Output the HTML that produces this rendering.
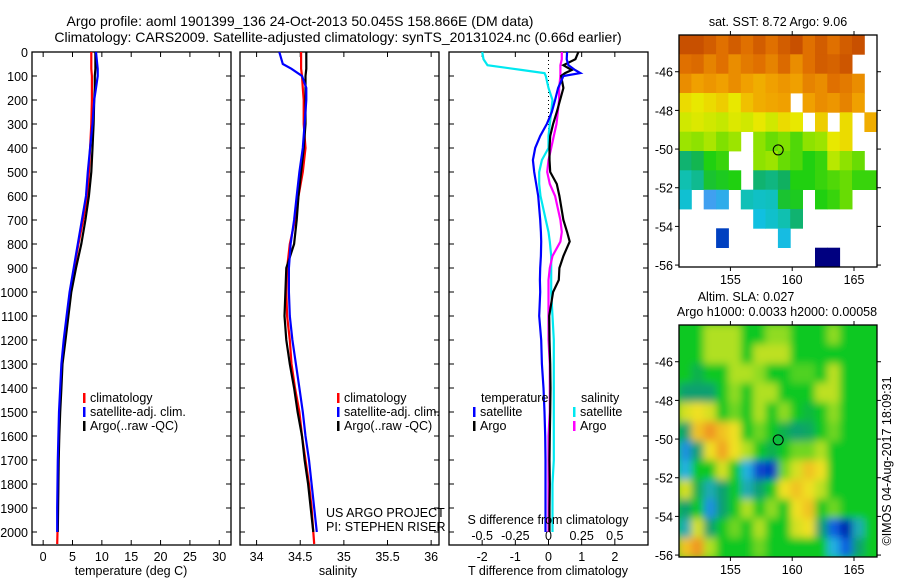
<!DOCTYPE html>
<html><head><meta charset="utf-8"><style>
body{margin:0;background:#fff;}
svg{display:block;font-family:"Liberation Sans",sans-serif;}
text{font-size:12.5px;fill:#000;}
</style></head><body>
<svg id="chart" width="900" height="580" viewBox="0 0 900 580" xmlns="http://www.w3.org/2000/svg">
<defs>
<clipPath id="clipSla"><rect x="679" y="325" width="198" height="232"/></clipPath>
<filter id="blur" x="-5%" y="-5%" width="110%" height="110%"><feGaussianBlur stdDeviation="4"/></filter>
</defs>
<text x="300" y="26" text-anchor="middle" style="font-size:14px">Argo profile: aoml 1901399_136 24-Oct-2013 50.045S 158.866E (DM data)</text>
<text x="338" y="42" text-anchor="middle" style="font-size:14px">Climatology: CARS2009. Satellite-adjusted climatology: synTS_20131024.nc (0.66d earlier)</text>
<text x="778" y="26" text-anchor="middle">sat. SST: 8.72 Argo: 9.06</text>
<text x="746" y="301" text-anchor="middle">Altim. SLA: 0.027</text>
<text x="777" y="316" text-anchor="middle">Argo h1000: 0.0033 h2000: 0.00058</text>
<text transform="translate(891,461) rotate(-90)" text-anchor="middle">©IMOS 04-Aug-2017 18:09:31</text>
<g id="g"></g>
</svg>
<script>
// ---- profile data ----
const depths = [0,50,70,100,150,200,300,400,500,600,700,800,900,1000,1100,1200,1300,1400,1500,1600,1700,1800,1900,2000,2050];
const tempClim = [8.2,8.2,8.2,8.3,8.3,8.3,8.2,8.0,7.8,7.5,6.8,6.0,5.3,4.7,4.1,3.6,3.2,3.0,2.8,2.7,2.6,2.55,2.5,2.45,2.4];
const tempSat = [9.0,9.2,9.3,9.3,9.0,8.7,8.4,8.0,7.6,7.3,6.6,5.9,5.2,4.5,4.0,3.5,3.1,2.9,2.7,2.6,2.5,2.45,2.4,2.4,null];
const tempArgo = [8.9,8.9,8.9,8.8,8.8,8.7,8.6,8.4,8.2,7.8,7.2,6.5,5.6,4.8,4.3,3.8,3.3,3.1,2.9,2.75,2.65,2.6,2.55,2.5,null];
const salClim = [34.51,34.51,34.51,34.52,34.53,34.54,34.54,34.56,34.53,34.48,34.44,34.38,34.35,34.34,34.35,34.38,34.40,34.44,34.49,34.52,34.56,34.60,34.63,34.65,34.66];
const salSat = [34.26,34.30,34.40,34.52,34.57,34.57,34.55,34.53,34.49,34.46,34.43,34.39,34.37,34.37,34.38,34.41,34.45,34.49,34.53,34.56,34.60,34.63,34.66,34.69,null];
const salArgo = [34.57,34.57,34.57,34.56,34.56,34.56,34.56,34.54,34.51,34.48,34.46,34.43,34.34,34.33,34.32,34.34,34.38,34.43,34.47,34.52,34.55,34.59,34.62,34.65,null];
const diffDepths = [0,30,55,75,88,100,150,200,250,300,350,400,450,500,550,600,700,750,790,850,900,950,1000,1100,1200,1300,1400,1500,1600,1700,1800,1900,2000];
const tDiffSat = [0.56,0.55,0.6,0.8,0.96,0.45,0.29,0.2,0.1,-0.05,-0.25,-0.4,-0.47,-0.43,-0.37,-0.31,-0.25,-0.23,-0.22,-0.23,-0.25,-0.26,-0.25,-0.28,-0.22,-0.2,-0.15,-0.12,-0.1,-0.09,-0.09,-0.09,-0.09];
const tDiffArgo = [0.9,0.81,0.45,0.7,0.5,0.38,0.45,0.35,0.25,0.14,0.05,0.03,0.03,0.05,0.25,0.33,0.45,0.56,0.64,0.45,0.33,0.31,0.14,0.02,0.03,0.05,0.06,0.05,0.04,0.03,0.04,0.03,0.03];
const sDiffSat = [-0.5,-0.49,-0.46,-0.2,-0.03,-0.02,0,0.03,0.02,0.01,0,0,-0.05,-0.07,-0.07,-0.06,-0.02,0,0.01,0.02,0.02,0.02,0.02,0.03,0.04,0.04,0.04,0.04,0.04,0.04,0.03,0.03,0.03];
const sDiffArgo = [0.1,0.1,0.09,0.09,0.09,0.09,0.08,0.08,0.07,0.06,0.04,0.02,0,-0.01,0.01,0.05,0.09,0.1,0.09,0.03,0.01,0,0,0,0,0.01,0.01,0.01,0,0,0,0,0];
const depthTicks = [0,100,200,300,400,500,600,700,800,900,1000,1100,1200,1300,1400,1500,1600,1700,1800,1900,2000];
const tempTicks = [0,5,10,15,20,25,30];
const salTicks = [34,34.5,35,35.5,36];
const tDiffTicks = [-2,-1,0,1,2];
const sDiffTicks = [-0.5,-0.25,0,0.25,0.5];
// ---- map data ----
const mapLats = [-46,-48,-50,-52,-54,-56];
const mapLons = [155,160,165];
const argoLon = 158.866, argoLat = -50.045;
const N = null;
const sstGrid = [
[11,11,10.8,10.5,10.8,10.5,10.8,10.5,10.8,11,10.5,10.8,10.5,10.8,11,N],
[10.5,10.6,10.3,10.5,10.2,10.4,10.5,10.3,10.6,10.2,10.5,10.8,10.7,10.9,N,N],
[10.2,10,10.1,10,10.2,10,9.8,10,10.1,10,10.3,10.2,10.5,10.4,10.2,N],
[9.3,9.2,9.3,9.4,9.2,9.5,9.8,9.9,10,N,10,10.2,10.1,10.3,10,N],
[9,9.1,9,8.9,9.1,9,9.2,9,9.3,9.2,N,9.4,N,9.3,N,9.8],
[8.6,8.5,8.7,8.4,8.6,N,8.5,8.3,8.4,8.2,8.5,8.6,9.2,9.3,N,N],
[7.4,7.6,8,8.1,N,N,8.5,8.6,8.3,8.2,8,8.1,8.8,8.5,8.3,N],
[7,7.2,7.8,7.9,8,N,7.4,7.3,7.5,8,8,8.1,8.2,8.3,8.1,8.1],
[6.5,N,5.5,5.8,N,6.9,6.7,6.8,7.8,7.9,N,8,8.1,8.3,N,N],
[N,N,N,N,N,N,6.3,6.6,7,7.4,N,N,N,N,N,N],
[N,N,N,4.5,N,N,N,N,6.2,N,N,N,N,N,N,N],
[N,N,N,N,N,N,N,N,N,N,N,2,2,N,N,N]];
const slaGrid = [
[0,0,0.05,0.05,0.05,0,0,0.04,0.04,0,0,0,0.04,0,0,0],
[0,0,0.05,0.05,0.05,0,0.06,0.06,0.06,0,0,0,0,0,0,0],
[0,-0.03,0,0,0.05,0.05,0.04,0,0,0.02,0.02,0,0.06,0,0,0],
[-0.05,-0.05,-0.05,0,0.04,0,0.05,0.05,0,0,0,0.06,0.06,0,0,0],
[0.08,0.1,0.08,0,0.03,0,0.05,0,0.04,0,-0.02,0,0.04,0,0,0],
[-0.05,0.12,0.15,0.12,0.1,0,0.03,0,-0.03,-0.05,-0.04,0,0.03,0,0,0],
[-0.12,-0.05,0.1,0.14,0.1,0.05,0,-0.03,0,0.03,0.03,0.05,0,0,0,0],
[-0.1,0,0,0.08,0,-0.1,-0.17,-0.18,0.03,0.08,0.12,0.1,0,0,0,0],
[0.08,-0.03,-0.08,-0.05,0,-0.08,-0.05,0,0.1,0.12,0.1,0.06,0,0,0,0],
[-0.05,0,-0.12,-0.05,0,0.05,0,0.04,0,0.1,0.12,0,0.03,0,0,0],
[-0.08,0.08,-0.05,0,0.03,0,0.05,0,0,0.08,0.1,-0.05,-0.15,-0.2,-0.08,0],
[0.12,0.15,0.05,0,0,0,0.03,0,0,0,0,0,-0.1,-0.15,-0.05,0]];

const NS='http://www.w3.org/2000/svg';
const g=document.getElementById('g');
function el(tag,attrs,parent){const e=document.createElementNS(NS,tag);for(const k in attrs)e.setAttribute(k,attrs[k]);(parent||g).appendChild(e);return e;}
function txt(x,y,s,anchor,parent){const t=el('text',{x:x,y:y,'text-anchor':anchor||'start'},parent);t.textContent=s;return t;}

const top0=52, pxPerM=0.24, bottom=545;
const yD=d=>top0+d*pxPerM;

function panel(name,x0,x1,dMin,dMax,xTicks,xLabelFn,depthLabels){
  const xs=v=>x0+(v-dMin)/(dMax-dMin)*(x1-x0);
  const fr=el('rect',{x:x0,y:top0,width:x1-x0,height:bottom-top0,fill:'none',stroke:'#000','stroke-width':1.3});
  
  
  depthTicks.forEach(d=>{
    const y=yD(d);
    el('line',{x1:x0,x2:x0+5,y1:y,y2:y,stroke:'#000'});
    el('line',{x1:x1-5,x2:x1,y1:y,y2:y,stroke:'#000'});
    if(depthLabels){const t=txt(28,y+5,String(d),'end');
      
      }
  });
  xTicks.forEach(v=>{
    const x=xs(v);
    el('line',{x1:x,x2:x,y1:top0,y2:top0+5,stroke:'#000'});
    el('line',{x1:x,x2:x,y1:bottom-5,y2:bottom,stroke:'#000'});
    if(xLabelFn){const t=txt(x,561,xLabelFn(v),'middle');
      
      }
  });
  return xs;
}
function line(xs,ds,vals,color,name,w){
  const pts=[];vals.forEach((v,i)=>{if(v!==null)pts.push(xs(v).toFixed(1)+','+yD(ds[i]).toFixed(1));});
  const p=el('polyline',{points:pts.join(' '),fill:'none',stroke:color,'stroke-width':w||2.2,'stroke-linejoin':'miter'});
  
  
}
function legend(x,y,color,label,name){
  el('rect',{x:x,y:y-9,width:2.5,height:10,fill:color});
  const t=txt(x+7,y,label);
  
  
}

// temperature panel
const xT=panel('temperature-panel',32,231,-1.9,32,tempTicks,v=>String(v),true);
line(xT,depths,tempClim,'#f00','temp-climatology-line');
line(xT,depths,tempArgo,'#000','temp-argo-line');
line(xT,depths,tempSat,'#00f','temp-satellite-line');
let t1=txt(131,575,'temperature (deg C)','middle');


legend(83,402,'#f00','climatology','legend-climatology');
legend(83,416,'#00f','satellite-adj. clim.','legend-satellite');
legend(83,430,'#000','Argo(..raw -QC)','legend-argo');

// salinity panel
const xS=panel('salinity-panel',240,439,33.81,36.09,salTicks,v=>String(v),false);
line(xS,depths,salClim,'#f00','sal-climatology-line');
line(xS,depths,salArgo,'#000','sal-argo-line');
line(xS,depths,salSat,'#00f','sal-satellite-line');
let t2=txt(338,575,'salinity','middle');


legend(337,402,'#f00','climatology','legend-sal-climatology');
legend(337,416,'#00f','satellite-adj. clim.','legend-sal-satellite');
legend(337,430,'#000','Argo(..raw -QC)','legend-sal-argo');
let u1=txt(326,517,'US ARGO PROJECT');


let u2=txt(326,531,'PI: STEPHEN RISER');



// difference panel
const xDT=panel('difference-panel',449,648,-3,3,tDiffTicks,v=>String(v),false);
const xDS=v=>xDT(v*4);
sDiffTicks.forEach(v=>{const t=txt(xDS(v),540,String(v),'middle');
  
  });
el('line',{x1:xDT(0),x2:xDT(0),y1:top0,y2:yD(350),stroke:'#000','stroke-dasharray':'1,3'});
line(xDS,diffDepths,sDiffSat,'#00e8f0','s-diff-satellite-line');
line(xDS,diffDepths,sDiffArgo,'#f0f','s-diff-argo-line');
line(xDT,diffDepths,tDiffArgo,'#000','t-diff-argo-line');
line(xDT,diffDepths,tDiffSat,'#00f','t-diff-satellite-line');
let t3=txt(548,575,'T difference from climatology','middle');


let t4=txt(548,524,'S difference from climatology','middle');


let lt=txt(481,402,'temperature');


let ls=txt(581,402,'salinity');


legend(473,416,'#00f','satellite','legend-t-satellite');
legend(473,430,'#000','Argo','legend-t-argo');
legend(573,416,'#00e8f0','satellite','legend-s-satellite');
legend(573,430,'#f0f','Argo','legend-s-argo');

// ---- maps ----
const lonMin=150.84, lonMax=166.86, latTop=-44.1, latBot=-56.1;
function sstColor(v){
  const st=[[2,[0,0,128]],[4.5,[0,64,192]],[5.5,[64,160,240]],[6.3,[16,192,224]],[7,[16,192,176]],[7.5,[16,176,96]],[8,[32,208,16]],[8.4,[128,224,0]],[8.8,[184,232,0]],[9.2,[232,232,0]],[9.5,[240,192,0]],[10,[240,160,0]],[10.5,[224,112,0]],[11,[200,80,0]]];
  return interp(st,v);
}
function slaColor(v){
  const st=[[-0.2,[0,32,176]],[-0.15,[16,96,224]],[-0.1,[32,176,224]],[-0.05,[16,160,112]],[0,[16,200,32]],[0.05,[176,224,32]],[0.1,[240,224,32]],[0.15,[240,150,32]]];
  return interp(st,v);
}
function interp(st,v){
  if(v<=st[0][0])return 'rgb('+st[0][1]+')';
  for(let i=1;i<st.length;i++){if(v<=st[i][0]){const f=(v-st[i-1][0])/(st[i][0]-st[i-1][0]);
    const c=st[i-1][1].map((a,k)=>Math.round(a+(st[i][1][k]-a)*f));return 'rgb('+c+')';}}
  return 'rgb('+st[st.length-1][1]+')';
}
function map(name,y0,grid,colorFn,blur){
  const x0=679,x1=877,y1=y0+232;
  const lx=lon=>x0+(lon-lonMin)/(lonMax-lonMin)*(x1-x0);
  const ly=lat=>y0+(latTop-lat)/(latTop-latBot)*(y1-y0);
  const cg=el('g',blur?{'clip-path':'url(#clipSla)'}:{});
  
  
  const inner=blur?el('g',{filter:'url(#blur)'},cg):cg;
  if(blur)el('rect',{x:x0-20,y:y0-20,width:x1-x0+40,height:y1-y0+40,fill:colorFn(0)},inner);
  grid.forEach((row,r)=>row.forEach((v,c)=>{
    if(v===null)return;
    const xa=lx(lonMin+c),xb=lx(lonMin+c+1),ya=ly(latTop-r),yb=ly(latTop-r-1);
    const e=el('rect',{x:xa.toFixed(1),y:ya.toFixed(1),width:(xb-xa+0.4).toFixed(1),height:(yb-ya+0.4).toFixed(1),fill:colorFn(v)},inner);
    
  }));
  const fr=el('rect',{x:x0,y:y0,width:x1-x0,height:y1-y0,fill:'none',stroke:'#000','stroke-width':1.3});
  
  
  mapLats.forEach(lat=>{const y=ly(lat);
    el('line',{x1:x0-4,x2:x0,y1:y,y2:y,stroke:'#000'});
    el('line',{x1:x1,x2:x1+4,y1:y,y2:y,stroke:'#000'});
    const t=txt(x0-6,y+5,String(lat),'end');
    
    });
  mapLons.forEach(lon=>{const x=lx(lon);
    el('line',{x1:x,x2:x,y1:y1,y2:y1+4,stroke:'#000'});
    el('line',{x1:x,x2:x,y1:y0-4,y2:y0,stroke:'#000'});
    const t=txt(x,y1+17,String(lon),'middle');
    
    });
  const m=el('circle',{cx:lx(argoLon),cy:ly(argoLat),r:5,fill:'none',stroke:'#000','stroke-width':1});
  
  
}
map('sst-map',35,sstGrid,sstColor,false);
map('sla-map',325,slaGrid,slaColor,true);
</script>
</body></html>
